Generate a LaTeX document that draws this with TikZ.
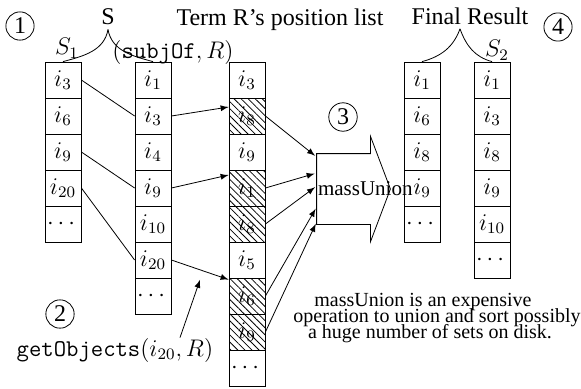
\documentclass[tikz,border=0pt,12pt]{standalone}
\usepackage{amsmath}
\usepackage{amssymb}
\usepackage{fontspec}
\setmainfont{Liberation Serif}
\usetikzlibrary{patterns.meta}
\newcommand\notefont{\fontsize{10}{7.8}\selectfont\lineskiplimit=-20pt\relax}

\begin{document}
\begin{tikzpicture}[x=0.5pt,y=0.5pt,
  cell/.style={draw,minimum width=18pt,minimum height=18pt,inner sep=0pt},
  hcell/.style={cell,pattern={Lines[angle=-45,distance=2.5pt]}},
  num/.style={draw,circle,inner sep=1.5pt},
  lbl/.style={inner sep=2pt}]
  \useasboundingbox (0,0) rectangle (581,388);
  % the five columns
  \foreach \t [count=\k] in {i_3,i_6,i_9,i_{20},\cdots}
    \node[cell] (s1-\k) at (63,344-36*\k) {$\t$};
  \foreach \t [count=\k] in {i_1,i_3,i_4,i_9,i_{10},i_{20},\cdots}
    \node[cell] (sub-\k) at (153,344-36*\k) {$\t$};
  \foreach \t/\s [count=\k] in {i_3/cell,i_8/hcell,i_9/cell,i_1/hcell,i_8/hcell,i_5/cell,i_6/hcell,i_9/hcell,\cdots/cell}
    \node[\s] (r-\k) at (247,344-36*\k) {$\t$};
  \foreach \t [count=\k] in {i_1,i_6,i_8,i_9,\cdots}
    \node[cell] (res-\k) at (422,344-36*\k) {$\t$};
  \foreach \t [count=\k] in {i_1,i_3,i_8,i_9,i_{10},\cdots}
    \node[cell] (s2-\k) at (492,344-36*\k) {$\t$};
  % labels
  \node[lbl] (lbS) at (108,371) {S};
  \node[lbl] (lbS1) at (67,340) {$S_1$};
  \node[lbl] (lbSub) at (173,336) {$(\texttt{subjOf}, R)$};
  \node[lbl] (lbR) at (280,368) {Term R's position list};
  \node[lbl] (lbRes) at (470,372) {Final Result};
  \node[lbl] (lbS2) at (497,338) {$S_2$};
  \node[lbl] (lbGet) at (115,38) {$\texttt{getObjects}(i_{20}, R)$};
  \node[num] (n1) at (20,362) {1};
  \node[num] (n2) at (60,74) {2};
  \node[num] (n3) at (343,271) {3};
  \node[num] (n4) at (558,361) {4};
  \draw (lbS.south) to[out=-100,in=15] (s1-1.north);
  \draw (lbS.south) to[out=-80,in=165] (sub-1.north);
  \draw ([xshift=-5pt]lbRes.south) to[out=-110,in=15] (res-1.north);
  \draw ([xshift=-5pt]lbRes.south) to[out=-70,in=165] (s2-1.north);
  % S1 joined to subjOf
  \draw (s1-1.east) -- (sub-2.west);
  \draw (s1-3.east) -- (sub-4.west);
  \draw (s1-4.east) -- (sub-6.west);
  \draw[->,>=latex] (sub-2.east) -- ([yshift=4.5pt]r-2.west);
  \draw[->,>=latex] (sub-4.east) -- ([yshift=6.5pt]r-4.west);
  \draw[->,>=latex] (sub-6.east) -- coordinate (mid) ([yshift=-1pt]r-7.north west);
  \draw[->,>=latex] ([xshift=32.5pt,yshift=-2pt]lbGet.north) -- ([yshift=-5pt]mid);
  % massUnion
  \node[minimum width=26.5pt,minimum height=35pt,inner sep=0pt] (mu) at (343.5,199) {};
  \draw (mu.south west) -- (mu.north west) -- (mu.north east) -- ++(0,8.75pt)
    -- ([xshift=10pt]mu.east) -- ([yshift=-8.75pt]mu.south east) -- (mu.south east) -- cycle;
  \node[anchor=west,inner sep=0.5pt,font=\fontsize{10.5}{12}\selectfont] (muText) at (mu.west) {massUnion};
  \draw[->,>=latex,shorten >=1pt] (r-2.east) -- ([yshift=16pt]mu.west);
  \draw[->,>=latex,shorten >=1pt] (r-4.east) -- ([yshift=8pt]mu.west);
  \draw[->,>=latex,shorten >=1pt] (r-5.east) -- ([yshift=1.5pt]mu.west);
  \draw[->,>=latex,shorten >=1pt] (r-7.east) -- ([yshift=-9pt]mu.west);
  \draw[->,>=latex,shorten >=1pt] (r-8.east) -- ([yshift=-16.5pt]mu.west);
  \node[align=center,font=\notefont] (note) at (437,70)
    {massUnion is an expensive\hspace*{14pt}\\operation to union and sort possibly\\a huge number of sets on disk.\hspace*{7pt}};
\end{tikzpicture}
\end{document}
